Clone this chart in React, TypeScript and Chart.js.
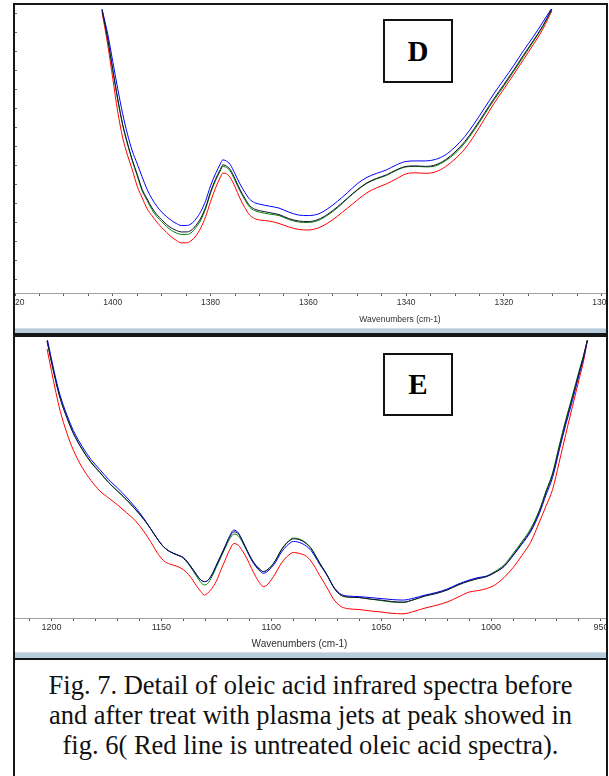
import React, { useEffect, useRef } from 'react';
import { Chart, registerables } from 'chart.js';

Chart.register(...registerables);

// ---------- Panel D (1420 - 1300 cm-1) ----------
const D_WN = [1402.2, 1401, 1400, 1399, 1398, 1397, 1396, 1395, 1394, 1393, 1392, 1391, 1390, 1389, 1388, 1387, 1386, 1385, 1384, 1383, 1382, 1381, 1380, 1379, 1378, 1377.5, 1377, 1376, 1375, 1374, 1373, 1372, 1371, 1370, 1368, 1366, 1364, 1362, 1360, 1358, 1356, 1354, 1352, 1350, 1348, 1346, 1344, 1342, 1340, 1338, 1336, 1334, 1332, 1330, 1328, 1326, 1324, 1322, 1320, 1318, 1316, 1314, 1312, 1310.2];
const D_BLUE = [2.86, 2.60, 2.33, 2.06, 1.81, 1.60, 1.43, 1.30, 1.17, 1.045, 0.95, 0.875, 0.815, 0.77, 0.73, 0.70, 0.68, 0.68, 0.695, 0.745, 0.82, 0.93, 1.08, 1.20, 1.30, 1.34, 1.335, 1.295, 1.20, 1.10, 1.015, 0.945, 0.91, 0.895, 0.875, 0.855, 0.815, 0.785, 0.78, 0.795, 0.85, 0.925, 1.01, 1.10, 1.165, 1.205, 1.24, 1.29, 1.325, 1.33, 1.33, 1.345, 1.39, 1.47, 1.575, 1.71, 1.86, 2.01, 2.15, 2.29, 2.44, 2.58, 2.73, 2.87];
const D_BLACK = [2.85, 2.55, 2.25, 1.96, 1.705, 1.51, 1.34, 1.195, 1.045, 0.95, 0.86, 0.79, 0.74, 0.69, 0.655, 0.63, 0.615, 0.615, 0.63, 0.68, 0.755, 0.865, 1.02, 1.145, 1.245, 1.29, 1.285, 1.245, 1.15, 1.045, 0.955, 0.88, 0.845, 0.83, 0.81, 0.79, 0.75, 0.725, 0.72, 0.74, 0.795, 0.87, 0.955, 1.04, 1.11, 1.155, 1.19, 1.24, 1.275, 1.28, 1.275, 1.29, 1.34, 1.42, 1.525, 1.66, 1.81, 1.96, 2.10, 2.245, 2.395, 2.54, 2.695, 2.86];
const D_GREEN = [2.85, 2.545, 2.24, 1.95, 1.695, 1.50, 1.33, 1.18, 1.03, 0.935, 0.84, 0.77, 0.72, 0.67, 0.63, 0.605, 0.59, 0.59, 0.605, 0.66, 0.735, 0.85, 1.005, 1.13, 1.23, 1.275, 1.27, 1.23, 1.135, 1.03, 0.94, 0.865, 0.83, 0.815, 0.795, 0.78, 0.74, 0.715, 0.71, 0.73, 0.785, 0.86, 0.95, 1.035, 1.105, 1.15, 1.185, 1.235, 1.27, 1.275, 1.27, 1.28, 1.33, 1.405, 1.51, 1.645, 1.795, 1.945, 2.085, 2.23, 2.38, 2.53, 2.685, 2.855];
const D_RED = [2.83, 2.49, 2.16, 1.83, 1.57, 1.39, 1.24, 1.075, 0.96, 0.85, 0.78, 0.715, 0.66, 0.61, 0.565, 0.53, 0.505, 0.505, 0.525, 0.575, 0.655, 0.77, 0.92, 1.055, 1.165, 1.207, 1.205, 1.165, 1.07, 0.955, 0.86, 0.785, 0.75, 0.735, 0.725, 0.70, 0.665, 0.64, 0.635, 0.655, 0.705, 0.775, 0.855, 0.935, 1.01, 1.06, 1.10, 1.15, 1.20, 1.21, 1.205, 1.22, 1.27, 1.35, 1.45, 1.59, 1.75, 1.91, 2.055, 2.20, 2.35, 2.50, 2.66, 2.84];
const D_X_MIN = 1262.5;
const D_X_MAX = 1420;
const D_X_STEP = 5;
const D_X_LABEL_STEP = 20;
const D_Y_MAX = 2.86;
const D_Y_TICKS = [0.14, 0.331, 0.522, 0.713, 0.904, 1.095, 1.286, 1.477, 1.668, 1.859, 2.05, 2.241, 2.432, 2.623, 2.814];

// ---------- Panel E (1225 - 948 cm-1) ----------
const E_WN = [1202, 1200, 1198, 1196, 1193, 1190, 1186, 1182, 1178, 1174, 1170, 1166, 1162, 1158, 1155, 1152, 1149, 1146, 1143, 1140, 1137, 1134, 1132, 1130.5, 1129, 1127, 1125, 1123, 1121, 1119, 1117, 1115, 1113, 1111, 1109, 1107, 1105, 1103.5, 1102, 1100, 1098, 1096, 1094, 1092, 1090, 1088, 1086, 1084, 1082, 1080, 1078, 1076, 1074, 1072, 1070, 1068, 1065, 1060, 1055, 1050, 1045, 1040, 1035, 1030, 1025, 1020, 1015, 1010, 1006, 1002, 998, 994, 990, 986, 982, 978, 975, 972, 969, 966, 963, 960, 958, 956.2];
const E_BLACK = [2.78, 2.57, 2.37, 2.20, 2.01, 1.85, 1.69, 1.56, 1.46, 1.36, 1.275, 1.19, 1.095, 0.99, 0.90, 0.80, 0.715, 0.665, 0.635, 0.605, 0.53, 0.435, 0.38, 0.365, 0.375, 0.435, 0.525, 0.62, 0.715, 0.81, 0.865, 0.845, 0.77, 0.68, 0.595, 0.53, 0.485, 0.465, 0.48, 0.52, 0.58, 0.66, 0.725, 0.77, 0.795, 0.79, 0.775, 0.745, 0.70, 0.63, 0.55, 0.48, 0.405, 0.32, 0.26, 0.225, 0.21, 0.205, 0.19, 0.18, 0.165, 0.16, 0.185, 0.22, 0.245, 0.28, 0.33, 0.37, 0.395, 0.415, 0.46, 0.52, 0.63, 0.75, 0.88, 1.07, 1.26, 1.44, 1.71, 1.97, 2.21, 2.46, 2.62, 2.79];
const E_BLUE = [2.81, 2.60, 2.40, 2.23, 2.04, 1.88, 1.72, 1.59, 1.49, 1.39, 1.305, 1.215, 1.115, 1.00, 0.90, 0.80, 0.715, 0.665, 0.635, 0.605, 0.53, 0.435, 0.38, 0.365, 0.375, 0.435, 0.53, 0.625, 0.72, 0.82, 0.882, 0.855, 0.77, 0.675, 0.585, 0.515, 0.468, 0.448, 0.463, 0.505, 0.56, 0.64, 0.70, 0.743, 0.768, 0.763, 0.748, 0.72, 0.68, 0.615, 0.54, 0.475, 0.405, 0.325, 0.27, 0.235, 0.22, 0.215, 0.205, 0.195, 0.185, 0.18, 0.20, 0.23, 0.255, 0.29, 0.34, 0.38, 0.405, 0.42, 0.46, 0.52, 0.625, 0.74, 0.865, 1.05, 1.235, 1.41, 1.68, 1.94, 2.18, 2.435, 2.60, 2.78];
const E_GREEN = [2.78, 2.57, 2.375, 2.205, 2.015, 1.855, 1.695, 1.565, 1.465, 1.36, 1.275, 1.19, 1.095, 0.99, 0.90, 0.80, 0.715, 0.665, 0.635, 0.60, 0.52, 0.42, 0.355, 0.332, 0.345, 0.415, 0.51, 0.605, 0.70, 0.79, 0.842, 0.825, 0.755, 0.67, 0.585, 0.525, 0.485, 0.465, 0.48, 0.52, 0.58, 0.665, 0.73, 0.775, 0.802, 0.797, 0.78, 0.75, 0.705, 0.635, 0.555, 0.485, 0.41, 0.325, 0.26, 0.225, 0.21, 0.205, 0.19, 0.175, 0.16, 0.155, 0.185, 0.225, 0.25, 0.285, 0.335, 0.375, 0.40, 0.42, 0.47, 0.535, 0.645, 0.765, 0.895, 1.085, 1.275, 1.455, 1.73, 1.99, 2.23, 2.475, 2.63, 2.79];
const E_RED = [2.70, 2.48, 2.265, 2.075, 1.857, 1.683, 1.51, 1.38, 1.275, 1.205, 1.136, 1.06, 0.98, 0.87, 0.77, 0.66, 0.576, 0.54, 0.52, 0.485, 0.42, 0.322, 0.266, 0.23, 0.248, 0.297, 0.37, 0.477, 0.58, 0.68, 0.747, 0.73, 0.67, 0.593, 0.50, 0.413, 0.343, 0.315, 0.33, 0.383, 0.45, 0.53, 0.59, 0.632, 0.657, 0.652, 0.64, 0.62, 0.573, 0.507, 0.428, 0.356, 0.28, 0.20, 0.147, 0.112, 0.093, 0.085, 0.071, 0.06, 0.047, 0.042, 0.067, 0.10, 0.127, 0.16, 0.21, 0.26, 0.275, 0.295, 0.335, 0.408, 0.505, 0.627, 0.76, 0.963, 1.123, 1.29, 1.563, 1.845, 2.12, 2.39, 2.57, 2.78];
const E_X_MIN = 947.7;
const E_X_MAX = 1226.6;
const E_X_STEP = 10;
const E_X_LABEL_STEP = 50;
const E_Y_MAX = 2.79;

const X_TITLE = 'Wavenumbers (cm-1)';
const CAPTION_LINES = [
  'Fig. 7. Detail of oleic acid infrared spectra before',
  'and after treat with plasma jets at peak showed in',
  'fig. 6( Red line is untreated oleic acid spectra).',
];

const COLORS = { black: '#141432', blue: '#0000ff', green: '#008000', red: '#ff0000' };
const SANS = "'Liberation Sans', Arial, sans-serif";
const SERIF = "'Liberation Serif', 'Times New Roman', serif";

function buildConfig(p: any): any {
  const series = [
    { values: p.black, color: COLORS.black },
    { values: p.blue, color: COLORS.blue },
    { values: p.green, color: COLORS.green },
    { values: p.red, color: COLORS.red },
  ];
  const yScale: any = p.yTicks
    ? {
        type: 'linear',
        min: 0,
        max: p.yMax,
        position: 'left',
        afterBuildTicks: (s: any) => {
          s.ticks = p.yTicks.map((v: number) => ({ value: v }));
        },
        ticks: { display: false },
        grid: { drawOnChartArea: false, drawTicks: true, tickLength: -2, color: '#6a6a6a', lineWidth: 1 },
        border: { display: false },
        afterFit: (s: any) => {
          s.width = 0;
        },
      }
    : { type: 'linear', min: 0, max: p.yMax, display: false };
  return {
    type: 'line',
    data: {
      datasets: series.map((s) => ({
        data: p.wn.map((x: number, i: number) => ({ x, y: s.values[i] })),
        borderColor: s.color,
        borderWidth: 1,
        pointRadius: 0,
        fill: false,
        cubicInterpolationMode: 'monotone',
      })),
    },
    options: {
      responsive: false,
      animation: false,
      events: [],
      layout: { padding: p.padding },
      plugins: { legend: { display: false }, tooltip: { enabled: false } },
      scales: {
        x: {
          type: 'linear',
          reverse: true,
          min: p.xMin,
          max: p.xMax,
          border: { display: true, color: '#a0a0a0', width: 1 },
          grid: { drawOnChartArea: false, drawTicks: true, tickLength: 3, color: '#555555' },
          ticks: {
            stepSize: p.xStep,
            autoSkip: false,
            includeBounds: false,
            maxRotation: 0,
            minRotation: 0,
            padding: p.tickPad,
            color: '#303030',
            font: { family: SANS, size: p.tickSize, lineHeight: 1.2 },
            callback: (v: any) => (Math.round(Number(v)) % p.labelStep === 0 ? String(Math.round(Number(v))) : ''),
          },
          title: {
            display: true,
            text: X_TITLE,
            color: '#303030',
            font: { family: SANS, size: p.titleSize, lineHeight: 1.2 },
            padding: { top: 4, bottom: 0 },
          },
          afterFit: (s: any) => {
            s.paddingLeft = 0;
            s.paddingRight = 0;
          },
        },
        y: yScale,
      },
    },
  };
}

const panelBox = (top: number, height: number): React.CSSProperties => ({
  position: 'absolute',
  left: 13,
  top,
  width: 591,
  height,
  border: '2px solid #161616',
  overflow: 'hidden',
  background: '#ffffff',
});

const labelBox = (left: number, top: number, h: number): React.CSSProperties => ({
  position: 'absolute',
  left,
  top,
  width: 70,
  height: h,
  boxSizing: 'border-box',
  border: '2px solid #111',
  background: '#fff',
  display: 'flex',
  alignItems: 'center',
  justifyContent: 'center',
  fontFamily: SERIF,
  fontWeight: 'bold',
  fontSize: 29,
  color: '#000',
});

const statusBar: React.CSSProperties = {
  position: 'absolute',
  left: 0,
  right: 0,
  bottom: 0,
  background: '#b6cbdc',
  borderTop: '1px solid #d4dde6',
};

export default function App() {
  const dRef = useRef<HTMLCanvasElement>(null);
  const eRef = useRef<HTMLCanvasElement>(null);

  useEffect(() => {
    const d = new Chart(
      dRef.current as HTMLCanvasElement,
      buildConfig({
        wn: D_WN, black: D_BLACK, blue: D_BLUE, green: D_GREEN, red: D_RED,
        xMin: D_X_MIN, xMax: D_X_MAX, xStep: D_X_STEP, labelStep: D_X_LABEL_STEP,
        yMax: D_Y_MAX, yTicks: D_Y_TICKS,
        padding: { left: 0, right: 0, top: 4, bottom: 4.6 },
        tickPad: 2, tickSize: 8.5, titleSize: 8.5,
      })
    );
    const e = new Chart(
      eRef.current as HTMLCanvasElement,
      buildConfig({
        wn: E_WN, black: E_BLACK, blue: E_BLUE, green: E_GREEN, red: E_RED,
        xMin: E_X_MIN, xMax: E_X_MAX, xStep: E_X_STEP, labelStep: E_X_LABEL_STEP,
        yMax: E_Y_MAX, yTicks: null,
        padding: { left: 0, right: 0, top: 3, bottom: 3.2 },
        tickPad: 1, tickSize: 9, titleSize: 10,
      })
    );
    return () => {
      d.destroy();
      e.destroy();
    };
  }, []);

  return (
    <div style={{ position: 'absolute', left: 0, top: 0, width: 609, height: 776, overflow: 'hidden', background: '#fff' }}>
      {/* Panel D */}
      <div style={panelBox(3, 328)}>
        <canvas ref={dRef} width={770} height={324} style={{ position: 'absolute', left: 0, top: 0, width: 770, height: 324 }} />
        <div style={{ ...statusBar, height: 4 }} />
        <div style={labelBox(368, 14, 64)}>D</div>
      </div>
      {/* Panel E */}
      <div style={panelBox(335, 321)}>
        <canvas ref={eRef} width={613} height={316} style={{ position: 'absolute', left: -22, top: 0, width: 613, height: 316 }} />
        <div style={{ ...statusBar, height: 5 }} />
        <div style={labelBox(368, 16, 63)}>E</div>
      </div>
      {/* Caption */}
      <div
        style={{
          position: 'absolute',
          left: 13,
          top: 658,
          width: 591,
          height: 130,
          border: '2px solid #161616',
          background: '#fff',
          boxSizing: 'content-box',
          paddingTop: 0,
        }}
      >
        <div
          style={{
            marginTop: 10,
            textAlign: 'center',
            fontFamily: SERIF,
            fontSize: 26.5,
            lineHeight: '30px',
            color: '#111',
            whiteSpace: 'nowrap',
          }}
        >
          {CAPTION_LINES.map((l, i) => (
            <div key={i}>{l}</div>
          ))}
        </div>
      </div>
    </div>
  );
}
